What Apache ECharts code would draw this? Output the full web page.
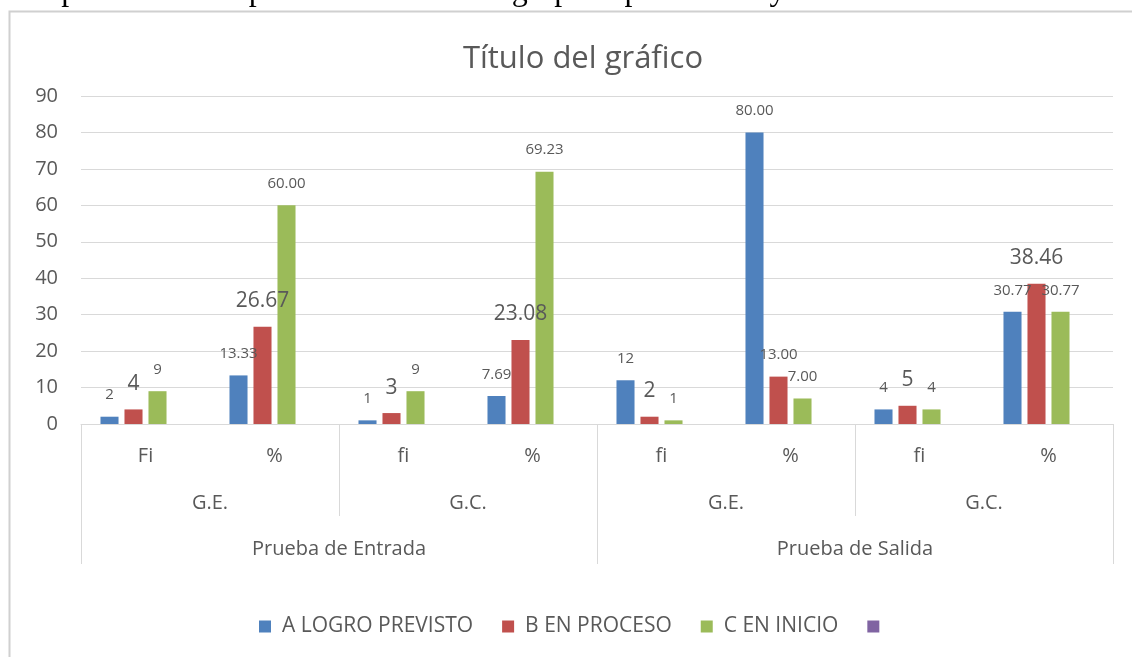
<!DOCTYPE html>
<html>
<head>
<meta charset="utf-8">
<script src="https://cdn.jsdelivr.net/npm/echarts@6/dist/echarts.min.js"></script>
<style>
html, body { margin: 0; padding: 0; background: #fff; }
#graph { width: 1132px; height: 657px; }
</style>
</head>
<body>
<div id="graph"></div>
<script>
// niveles del eje x
const categorias = ['Fi', '%', 'fi', '%', 'fi', '%', 'fi', '%']
const grupos = ['G.E.', 'G.C.', 'G.E.', 'G.C.']
const pruebas = ['Prueba de Entrada', 'Prueba de Salida']

// series
const logroPrevisto = [2, 13.33, 1, 7.69, 12, 80.00, 4, 30.77]
const enProceso = [4, 26.67, 3, 23.08, 2, 13.00, 5, 38.46]
const enInicio = [9, 60.00, 9, 69.23, 1, 7.00, 4, 30.77]
const vacia = [null, null, null, null, null, null, null, null]

const yTicks = [0, 10, 20, 30, 40, 50, 60, 70, 80, 90]

// etiquetas que en el original salen más grandes (serie B)
const etiquetasGrandes = {1: [0, 1, 2, 3, 4, 6, 7]}

const font = '"Open Sans", "Noto Sans", sans-serif'
const gris = '#595959'
const linea = '#d9d9d9'
const colores = ['#4F81BD', '#C0504D', '#9BBB59', '#8064A2']

const myChart = echarts.init(document.getElementById('graph'))

function formato (params) {
    if (params.value === null || params.value === undefined) return ''
    return categorias[params.dataIndex] === '%' ? params.value.toFixed(2) : String(params.value)
}

function serie (name, values, idx) {
    const grandes = etiquetasGrandes[idx] || []
    return {
        name: name,
        type: 'bar',
        barCategoryGap: '30.2%',
        barGap: '33%',
        itemStyle: {color: colores[idx]},
        label: {
            show: true,
            position: 'top',
            distance: 14,
            color: gris,
            fontFamily: font,
            fontSize: 15,
            formatter: formato
        },
        data: values.map((v, i) => {
            if (grandes.indexOf(i) < 0) return v
            return {value: v, label: {fontSize: 21, distance: 15}}
        })
    }
}

const ejeX = (data, margin, tickLen, extra) => Object.assign({
    type: 'category',
    position: 'bottom',
    data: data,
    axisLine: {show: false},
    axisTick: {show: true, length: tickLen, interval: 0, lineStyle: {color: linea}},
    axisLabel: {margin: margin, interval: 0, color: gris, fontFamily: font, fontSize: 20},
    splitLine: {show: false}
}, extra || {})

const option = {
    animation: false,
    title: {
        text: 'Título del gráfico',
        left: 578,
        top: 39,
        textAlign: 'center',
        textStyle: {color: gris, fontFamily: font, fontSize: 31, fontWeight: 'normal'}
    },
    graphic: [
        {
            type: 'rect',
            shape: {x: 9.5, y: 11.5, width: 1300, height: 800},
            style: {fill: 'none', stroke: '#d0d0d0', lineWidth: 2},
            silent: true
        },
        {
            type: 'text',
            left: -1,
            top: -24,
            style: {
                text: 'Comparación de la prueba de salida del grupo experimental y control.',
                fontFamily: '"Liberation Serif", "DejaVu Serif", serif',
                fontSize: 32,
                fill: '#000'
            }
        }
    ],
    legend: {
        left: 259,
        top: 616,
        padding: 0,
        itemWidth: 12,
        itemHeight: 12,
        itemGap: 29,
        icon: 'rect',
        textStyle: {color: gris, fontFamily: font, fontSize: 21, padding: [0, 0, 0, 6]},
        data: ['A LOGRO PREVISTO', 'B EN PROCESO', 'C EN INICIO', ' ']
    },
    grid: {left: 81, right: 19, top: 96, bottom: 233},
    xAxis: [
        ejeX(categorias, 22, 0, {
            axisLine: {show: true, lineStyle: {color: linea}},
            axisTick: {show: false}
        }),
        ejeX(grupos, 69, 92),
        ejeX(pruebas, 115, 140)
    ],
    yAxis: {
        type: 'value',
        min: yTicks[0],
        max: yTicks[yTicks.length - 1],
        interval: 10,
        axisLine: {show: false},
        axisTick: {show: false},
        axisLabel: {margin: 23, color: gris, fontFamily: font, fontSize: 20},
        splitLine: {lineStyle: {color: linea}}
    },
    series: [
        serie('A LOGRO PREVISTO', logroPrevisto, 0),
        serie('B EN PROCESO', enProceso, 1),
        serie('C EN INICIO', enInicio, 2),
        serie(' ', vacia, 3)
    ]
}

myChart.setOption(option)
</script>
</body>
</html>
